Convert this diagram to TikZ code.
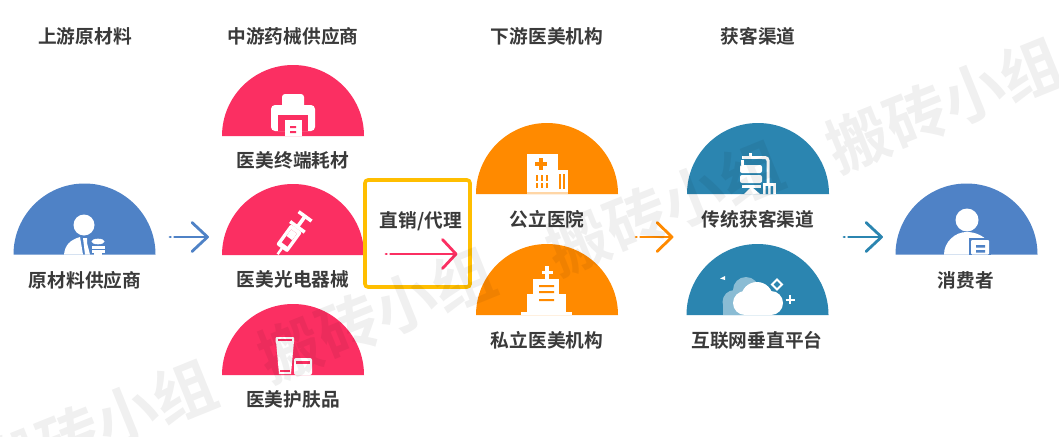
\documentclass[tikz,border=0pt]{standalone}
\usepackage{fontspec}
\setmainfont{Noto Sans CJK SC}[BoldFont={Noto Sans CJK SC Bold}]
\definecolor{cblue}{RGB}{79,130,198}
\definecolor{cpink}{RGB}{251,47,98}
\definecolor{corange}{RGB}{255,138,0}
\definecolor{cteal}{RGB}{43,133,176}
\definecolor{cyellow}{RGB}{255,190,0}
\definecolor{ctext}{RGB}{58,58,58}
\tikzset{
 x=1pt,y=-1pt,
 lbl/.style={font=\bfseries\fontsize{18.7}{18.7}\selectfont,text=ctext,inner sep=0pt},
 wm/.style={font=\bfseries\fontsize{62}{62}\selectfont,text=black,opacity=.06,rotate=22,inner sep=0pt},
 arr/.style={line width=2.8pt,line cap=round,line join=round},
 ic/.style={fill=white,draw=none},
}
\newcommand{\dome}[3]{\fill[#3] (#1-71,#2) arc[start angle=180,end angle=360,radius=71] -- cycle;}
\newcommand{\arrowto}[6]{% name, x0, x1, y, headx, colour
 \coordinate (#1d) at (#2,#4); \coordinate (#1s) at (#2+4.5,#4); \coordinate (#1e) at (#3,#4);
 \coordinate (#1a) at (#5,#4-14.5); \coordinate (#1b) at (#5,#4+14.5);
 \draw[arr,#6] (#1d) -- ++(.5,0);
 \draw[arr,#6] (#1s) -- (#1e);
 \draw[arr,#6] (#1a) -- (#1e) -- (#1b);}
\begin{document}
\begin{tikzpicture}
\useasboundingbox (0,0) rectangle (1059,436);
\fill[white] (0,0) rectangle (1059,436);
% titles
\node[lbl] (t1) at (85,36) {上游原材料};
\node[lbl] (t2) at (293,36) {中游药械供应商};
\node[lbl] (t3) at (547,36) {下游医美机构};
\node[lbl] (t4) at (758,36) {获客渠道};
% domes
\dome{84.5}{254.5}{cblue}
\dome{293}{136}{cpink}
\dome{293}{255}{cpink}
\dome{293}{375}{cpink}
\dome{547}{194}{corange}
\dome{547}{315}{corange}
\dome{758}{194}{cteal}
\dome{757.5}{315}{cteal}
\dome{966.5}{254.5}{cblue}
% labels
\node[lbl] (n1) at (85,280) {原材料供应商};
\node[lbl] (n2) at (293,160) {医美终端耗材};
\node[lbl] (n3) at (293,279) {医美光电器械};
\node[lbl] (n4) at (293,399) {医美护肤品};
\node[lbl] (n5) at (547,219) {公立医院};
\node[lbl] (n6) at (547,340) {私立医美机构};
\node[lbl] (n7) at (758,219) {传统获客渠道};
\node[lbl] (n8) at (757,340) {互联网垂直平台};
\node[lbl] (n9) at (966,280) {消费者};
% box
\node[draw=cyellow,line width=3.6pt,rounded corners=3pt,minimum width=105pt,minimum height=107pt,inner sep=0pt] (box) at (417.5,233.5) {};
\node[lbl] (n10) at (421,221) {直销/代理};
% arrows
\arrowto{a}{170}{207.5}{237}{192}{cblue}
\arrowto{b}{386}{456}{254}{442.5}{cpink}
\arrowto{c}{636}{672}{237}{657}{corange}
\arrowto{d}{844}{881.5}{237}{866}{cteal}
% icon: raw material supplier
\fill[ic] (84,225) circle (10.5);
\fill[ic] (64,254.5) .. controls (65,245) and (70,240) .. (80,237) -- (83,254.5) -- cycle;
\fill[ic] (83,238) -- (87,238) -- (87,243) -- (90,254.5) -- (85,254.5) -- cycle;
\fill[ic] (98,241.5) ellipse (6.5 and 2.8);
\fill[ic] (91.5,245.5) rectangle (105,248.5);
\fill[ic] (91.5,250) rectangle (104.5,253);
\fill[ic] (94,253) rectangle (102,254.5);
% icon: printer
\fill[ic,rounded corners=3pt] (282,94) rectangle (304,108);
\fill[ic,rounded corners=4pt] (271,105) rectangle (315,131);
\fill[cpink] (278,115) rectangle (308,131);
\fill[ic] (285,120) rectangle (302,136);
\fill[cpink] (290,126) rectangle (296,128) (290,131) rectangle (296,133);
% icon: syringe
\begin{scope}[shift={(277,255)},rotate=-36]
 \fill[ic] (-1.2,-1) rectangle (1.2,-9);
 \fill[ic,rounded corners=2pt] (-7,-8) rectangle (7,-33);
 \fill[cpink] (-3.5,-13) rectangle (3.5,-29);
 \fill[ic] (-3.5,-21) rectangle (3.5,-29);
 \fill[ic] (-1.8,-33) rectangle (1.8,-48);
 \fill[ic] (-9,-36.5) rectangle (9,-33);
 \fill[ic] (-8,-49.5) rectangle (8,-46);
\end{scope}
% icon: skincare
\fill[ic,rounded corners=1pt] (275.5,337) rectangle (294,343);
\fill[ic] (276,341) -- (294,341) -- (291,374) -- (279,374) -- cycle;
\fill[cpink] (277.5,338.5) rectangle (292,341);
\fill[cpink] (279.5,370) rectangle (290,372);
\fill[ic,rounded corners=2pt] (294,358) rectangle (312,375);
\fill[cpink] (296,361) rectangle (310,364);
% icon: public hospital
\fill[ic] (527,154) rectangle (558,193);
\fill[ic] (557,170) rectangle (568,192);
\fill[corange] (535,162) rectangle (547,166);
\fill[corange] (539,158) rectangle (543,170);
\foreach \xx in {536,541,546} {
 \fill[corange] (\xx,175) rectangle ++(2.4,6);
 \fill[corange] (\xx,183) rectangle ++(2.4,5);}
\fill[corange] (558.5,174) rectangle (561,189);
\fill[corange] (562.5,174) rectangle (565,189);
\fill[white!65!corange] (527,191.5) rectangle (568,193.5);
% icon: private hospital
\fill[ic] (541.5,271) rectangle (552.5,274);
\fill[ic] (545,266) rectangle (548.5,279);
\fill[ic] (533,279) rectangle (559,315);
\fill[ic] (527,294) rectangle (566,315);
\fill[ic] (521,312) rectangle (572,315);
\fill[corange] (539,285) rectangle (554,287) (539,291) rectangle (554,293) (539,299) rectangle (554,301);
% icon: traditional channel
\fill[ic] (748.5,153) rectangle (751.5,157);
\fill[ic] (742,156) rectangle (766,159);
\fill[ic] (741,160) rectangle (744,165);
\fill[ic,rounded corners=2pt] (740,165) rectangle (762,173);
\fill[ic,rounded corners=2pt] (740,175) rectangle (762,183);
\fill[ic] (742,185) rectangle (761,188);
\fill[ic] (750,188) rectangle (753,194);
\fill[ic] (744,194) -- (750,188) -- (753,188) -- (760,194) -- cycle;
\draw[white,line width=3pt,rounded corners=3pt] (762,157.5) -- (768,157.5) -- (768,184);
\fill[ic] (763,183) rectangle (776,194);
\fill[cteal] (765.5,186) rectangle (768,194) (770.5,186) rectangle (773,194);
% icon: cloud
\begin{scope}
\clip (680,270) rectangle (800,315);
\fill[white!45!cteal] (734.5,302) circle (12);
\fill[white!45!cteal] (746,290) circle (13);
\fill[white!45!cteal] (723,302) rectangle (752,315);
\fill[ic] (745,303) circle (12);
\fill[ic] (757,298) circle (16);
\fill[ic] (771,303) circle (12);
\fill[ic] (745,303) rectangle (771,315);
\end{scope}
\draw[white,line width=1.9pt] (777,279.5) -- (782,284.5) -- (777,289.5) -- (772,284.5) -- cycle;
\draw[white,line width=2pt] (790,295) -- (790,304) (785.5,299.5) -- (794.5,299.5);
\fill[ic] (725,276) -- (720,278.5) -- (725,280) -- cycle;
% icon: consumer
\fill[ic] (967,220) circle (11.5);
\fill[ic] (944,254.5) .. controls (944,242) and (955,232) .. (966.5,232) .. controls (976,232) and (983,236) .. (988,241) -- (985,254.5) -- cycle;
\fill[cblue] (969,238) rectangle (991,254.5);
\fill[ic,rounded corners=1pt] (971,240) rectangle (989,254.5);
\fill[cblue] (976,245) rectangle (985,247.5) (976,250) rectangle (985,252.5);
% watermark
\node[wm] (w1) at (98,427) {搬砖小组};
\node[wm] (w2) at (377,315) {搬砖小组};
\node[wm] (w3) at (665,208) {搬砖小组};
\node[wm] (w4) at (945,105) {搬砖小组};
\end{tikzpicture}
\end{document}
